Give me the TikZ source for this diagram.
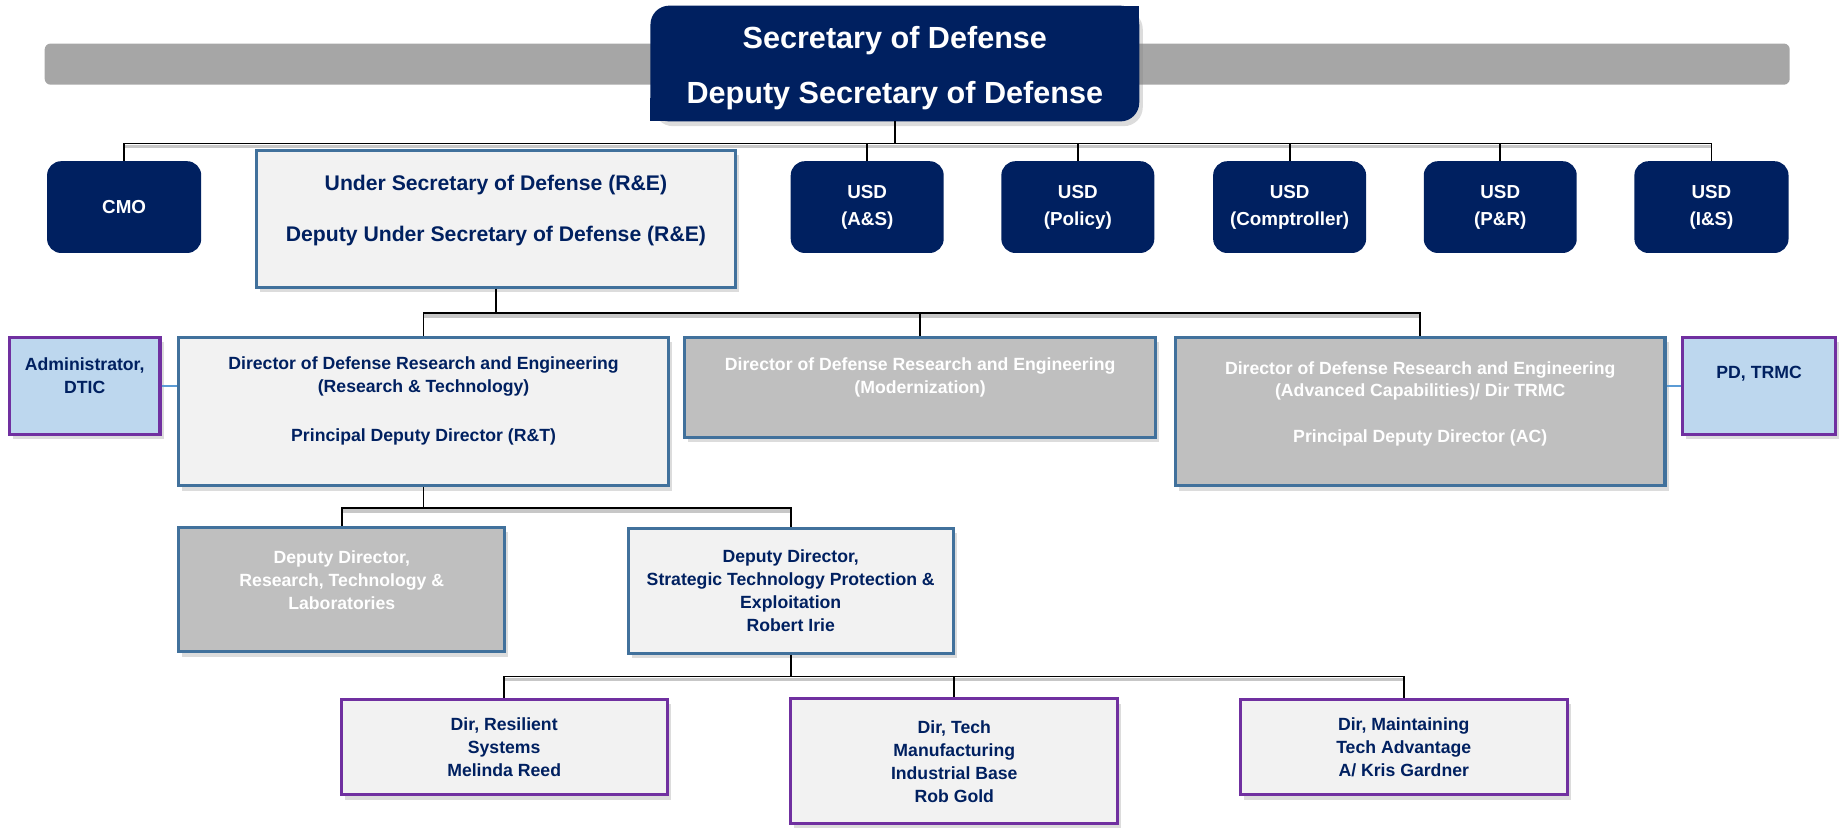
\documentclass[tikz,border=0pt]{standalone}
\usepackage{fontspec}
\setmainfont{Liberation Sans}
\usetikzlibrary{shadows,backgrounds}

\definecolor{navy}{RGB}{0,32,96}
\definecolor{barGray}{RGB}{166,166,166}
\definecolor{paleFill}{RGB}{242,242,242}
\definecolor{midGray}{RGB}{191,191,191}
\definecolor{steel}{RGB}{65,113,156}
\definecolor{violet}{RGB}{112,48,160}
\definecolor{skyFill}{RGB}{189,215,238}
\definecolor{linkBlue}{RGB}{91,155,213}

\tikzset{
  shade3/.style={drop shadow={opacity=0.28, shadow xshift=3pt, shadow yshift=-4pt}},
  box/.style={rectangle, inner sep=0pt, line width=2.6pt, shade3},
  paleBox/.style={box, draw=steel, fill=paleFill},
  greyBox/.style={box, draw=steel, fill=midGray},
  violetBox/.style={box, draw=violet, fill=paleFill},
  skyBox/.style={box, draw=violet, fill=skyFill},
  navyBox/.style={rectangle, rounded corners=12pt, fill=navy, inner sep=0pt,
    minimum width=130pt, minimum height=78pt,
    align=center, text=white, font=\bfseries\fontsize{16}{23}\selectfont},
  txt/.style={align=center, inner sep=0pt, text=navy,
    font=\bfseries\fontsize{15}{19.5}\selectfont},
  txtW/.style={txt, text=white},
  wire/.style={draw=black, line width=1.5pt},
  busShade/.style={draw=black!22, line width=3pt, transform canvas={yshift=-2.5pt}},
  link/.style={draw=linkBlue, line width=1.5pt},
}

\begin{document}
\begin{tikzpicture}[x=1pt, y=-1pt]
\useasboundingbox (0,0) rectangle (1568,703);

% ---------- top: secretary over the grey band ----------
\node[rectangle, fill=barGray, rounded corners=5pt, minimum width=1483pt,
      minimum height=35pt, inner sep=0pt] (bar) at (779.5,54.5) {};
\node[rectangle, inner sep=0pt, minimum width=415pt, minimum height=98pt]
      (sec) at (760.5,54) {};
% body with rounded top-left and bottom-right corners
\fill[navy, rounded corners=16pt, shade3] (sec.south west) rectangle (sec.north east);
\fill[navy] (sec.north east) rectangle ([xshift=-20pt, yshift=-20pt]sec.north east);
\fill[navy] (sec.south west) rectangle ([xshift=20pt, yshift=20pt]sec.south west);
\node[align=center, inner sep=0pt, text=white,
      font=\bfseries\fontsize{26}{47}\selectfont]
      (secT) at (760.5,58) {Secretary of Defense\\Deputy Secretary of Defense};

% ---------- under secretaries ----------
\node[navyBox, minimum width=131pt] (cmo) at (105.5,176) {CMO};
\node[paleBox, minimum width=407pt, minimum height=116pt] (usdRE) at (421.5,186) {};
\node[txt, font=\bfseries\fontsize{18}{22}\selectfont] (usdREt) at (421.5,179)
  {Under Secretary of Defense (R\&E)\\[22pt]Deputy Under Secretary of Defense (R\&E)};
\node[navyBox] (usdAS)   at (737,176)    {USD\\(A\&S)};
\node[navyBox] (usdPol)  at (916,176)    {USD\\(Policy)};
\node[navyBox] (usdComp) at (1096,176)   {USD\\(Comptroller)};
\node[navyBox] (usdPR)   at (1275,176)   {USD\\(P\&R)};
\node[navyBox, minimum width=131pt] (usdIS) at (1454.5,176) {USD\\(I\&S)};

% ---------- DDR&E level ----------
\node[skyBox, minimum width=128pt, minimum height=82pt] (dtic) at (72,328) {};
\node[txt] (dticT) at (72,319) {Administrator,\\DTIC};
\node[paleBox, minimum width=416pt, minimum height=126pt] (rt) at (360,350) {};
\node[txt] (rtT) at (360,341) {Director of Defense Research and Engineering\\(Research \& Technology)\\[22pt]Principal Deputy Director (R\&T)};
\node[greyBox, minimum width=400pt, minimum height=85pt] (mod) at (782,329.5) {};
\node[txtW] (modT) at (782,320.5) {Director of Defense Research and Engineering\\(Modernization)};
\node[greyBox, minimum width=416pt, minimum height=126pt] (ac) at (1207,350) {};
\node[txtW] (acT) at (1207,343) {Director of Defense Research and Engineering\\(Advanced Capabilities)/ Dir TRMC\\[19pt]Principal Deputy Director (AC)};
\node[skyBox, minimum width=130pt, minimum height=82pt] (trmc) at (1495,328) {};
\node[txt] (trmcT) at (1495,318) {PD, TRMC};

% ---------- deputy directors ----------
\node[greyBox, minimum width=277pt, minimum height=106pt] (rtl) at (290.5,501) {};
\node[txtW] (rtlT) at (290.5,493) {Deputy Director,\\Research, Technology \&\\Laboratories};
\node[paleBox, minimum width=276pt, minimum height=106pt, txt] (stpe) at (672,502)
  {Deputy Director,\\Strategic Technology Protection \&\\Exploitation\\Robert Irie};

% ---------- directors ----------
\node[violetBox, minimum width=277pt, minimum height=81pt, txt] (res) at (428.5,635)
  {Dir, Resilient\\Systems\\Melinda Reed};
\node[violetBox, minimum width=278pt, minimum height=106pt, txt] (tmib) at (811,647)
  {Dir, Tech\\Manufacturing\\Industrial Base\\Rob Gold};
\node[violetBox, minimum width=278pt, minimum height=81pt, txt] (mta) at (1193,635)
  {Dir, Maintaining\\Tech Advantage\\A/ Kris Gardner};

% ---------- connectors ----------
\coordinate (busTop) at (0,122);
\coordinate (busRE)  at (0,266);
\coordinate (busRT)  at (0,432);
\coordinate (busST)  at (0,575);

\begin{scope}[on background layer]
  \draw[busShade] (cmo.north |- busTop) -- (usdIS.north |- busTop);
  \draw[busShade] (rt.north |- busRE) -- (ac.north |- busRE);
  \draw[busShade] (rtl.north |- busRT) -- (stpe.north |- busRT);
  \draw[busShade] (res.north |- busST) -- (mta.north |- busST);
\end{scope}

\draw[wire, line width=2.2pt] (sec.south) -- (sec.south |- busTop);
\draw[wire] (cmo.north) |- (usdIS.north |- busTop) -- (usdIS.north);
\foreach \n in {usdAS,usdPol,usdComp,usdPR}
  \draw[wire] (\n.north) -- (\n.north |- busTop);

\draw[wire] (usdRE.south) -- (usdRE.south |- busRE);
\draw[wire] (rt.north) |- (ac.north |- busRE) -- (ac.north);
\draw[wire] (mod.north) -- (mod.north |- busRE);

\draw[wire] (rt.south) -- (rt.south |- busRT);
\draw[wire] (rtl.north) |- (stpe.north |- busRT) -- (stpe.north);

\draw[wire] (stpe.south) -- (stpe.south |- busST);
\draw[wire] (res.north) |- (mta.north |- busST) -- (mta.north);
\draw[wire] (tmib.north) -- (tmib.north |- busST);

\draw[link] (dtic.east) -- (dtic.east -| rt.west);
\draw[link] (trmc.west) -- (trmc.west -| ac.east);
\end{tikzpicture}
\end{document}
